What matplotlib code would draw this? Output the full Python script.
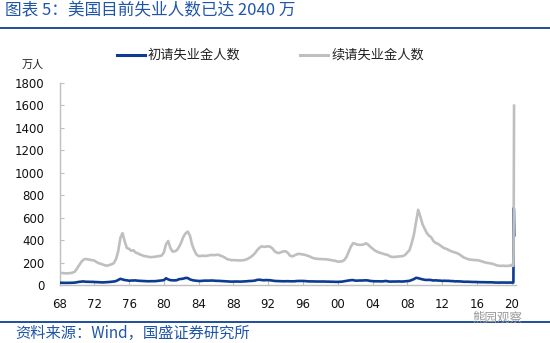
import matplotlib
matplotlib.use("Agg")
import matplotlib.pyplot as plt
import matplotlib.dates as mdates
import pandas as pd
import numpy as np

CJK = ["Noto Sans CJK SC", "DejaVu Sans"]
plt.rcParams["font.family"] = ["DejaVu Sans", "Noto Sans CJK SC"]

# Quarterly averages 1968Q1-2019Q4, unit: 10k persons
continuing_q = [
    110, 107, 105, 104,   # 1968
    104, 106, 110, 118,   # 1969
    145, 175, 205, 225,   # 1970
    232, 228, 225, 222,   # 1971
    218, 205, 195, 188,   # 1972
    180, 175, 172, 178,   # 1973
    185, 195, 230, 300,   # 1974
    420, 462, 390, 330,   # 1975
    322, 305, 310, 290,   # 1976
    282, 272, 265, 258,   # 1977
    255, 250, 248, 250,   # 1978
    252, 255, 258, 262,   # 1979
    290, 362, 392, 330,   # 1980
    298, 300, 310, 340,   # 1981
    380, 430, 460, 476,   # 1982
    440, 360, 310, 272,   # 1983
    258, 258, 262, 258,   # 1984
    262, 265, 268, 266,   # 1985
    268, 270, 262, 255,   # 1986
    245, 232, 226, 222,   # 1987
    222, 220, 220, 218,   # 1988
    220, 222, 228, 238,   # 1989
    250, 265, 285, 312,   # 1990
    332, 345, 340, 342,   # 1991
    345, 340, 325, 300,   # 1992
    288, 285, 292, 300,   # 1993
    300, 288, 262, 255,   # 1994
    262, 272, 278, 275,   # 1995
    272, 268, 262, 255,   # 1996
    245, 238, 235, 232,   # 1997
    232, 230, 230, 228,   # 1998
    225, 222, 218, 215,   # 1999
    208, 208, 212, 222,   # 2000
    250, 295, 340, 372,   # 2001
    368, 360, 358, 358,   # 2002
    362, 372, 360, 340,   # 2003
    325, 308, 298, 290,   # 2004
    284, 278, 272, 268,   # 2005
    255, 250, 250, 252,   # 2006
    254, 256, 258, 268,   # 2007
    290, 310, 372, 446,   # 2008
    560, 670, 610, 540,   # 2009
    500, 462, 440, 425,   # 2010
    392, 375, 368, 355,   # 2011
    340, 328, 322, 312,   # 2012
    302, 296, 290, 283,   # 2013
    272, 258, 245, 238,   # 2014
    230, 226, 224, 222,   # 2015
    222, 218, 212, 205,   # 2016
    200, 196, 194, 190,   # 2017
    184, 176, 172, 170,   # 2018
    172, 170, 170, 172,   # 2019
]

initial_q = [
    20, 19.5, 19, 19,     # 1968
    19, 19.5, 20, 21,     # 1969
    25, 28, 30, 32,       # 1970
    29, 29, 28, 28,       # 1971
    27, 26, 25, 25,       # 1972
    23, 24, 25, 27,       # 1973
    29, 31, 35, 45,       # 1974
    55, 50, 44, 42,       # 1975
    38, 40, 40, 41,       # 1976
    38, 37, 36, 34,       # 1977
    33, 33, 34, 34,       # 1978
    34, 36, 38, 41,       # 1979
    43, 60, 50, 43,       # 1980
    42, 41, 43, 52,       # 1981
    54, 57, 63, 62,       # 1982
    50, 44, 40, 38,       # 1983
    36, 36, 38, 39,       # 1984
    39, 39, 40, 39,       # 1985
    37, 37, 36, 35,       # 1986
    34, 33, 31, 30,       # 1987
    31, 31, 31, 30,       # 1988
    31, 32, 33, 35,       # 1989
    36, 37, 40, 46,       # 1990
    47, 44, 42, 44,       # 1991
    43, 42, 39, 36,       # 1992
    35, 34, 33, 33,       # 1993
    34, 34, 33, 33,       # 1994
    33, 35, 36, 36,       # 1995
    36, 35, 33, 32,       # 1996
    32, 32, 31, 31,       # 1997
    31, 31, 31, 30,       # 1998
    30, 29, 29, 28,       # 1999
    28, 29, 30, 33,       # 2000
    37, 40, 43, 44,       # 2001
    39, 39, 40, 40,       # 2002
    41, 42, 40, 36,       # 2003
    34, 33, 33, 33,       # 2004
    32, 33, 36, 33,       # 2005
    30, 31, 31, 31,       # 2006
    32, 31, 31, 33,       # 2007
    35, 37, 44, 52,       # 2008
    64, 61, 55, 50,       # 2009
    46, 45, 46, 44,       # 2010
    40, 42, 40, 39,       # 2011
    37, 38, 37, 37,       # 2012
    35, 35, 32, 33,       # 2013
    32, 31, 29, 29,       # 2014
    29, 28, 27, 27,       # 2015
    26, 26, 25, 25,       # 2016
    24, 24, 24, 24,       # 2017
    22, 22, 21, 22,       # 2018
    22, 22, 21, 22,       # 2019
]

# Weekly figures for 2020
weeks_2020 = ["2020-01-04", "2020-01-11", "2020-01-18", "2020-01-25",
              "2020-02-01", "2020-02-08", "2020-02-15", "2020-02-22",
              "2020-02-29", "2020-03-07", "2020-03-14", "2020-03-21",
              "2020-03-28", "2020-04-04", "2020-04-11", "2020-04-18"]
initial_2020 = [21.4, 20.7, 22.2, 21.6, 20.3, 20.5, 21.5, 21.9,
                21.7, 21.1, 28.2, 330.7, 686.7, 661.5, 524.5, 442.7]
continuing_2020 = [180, 173, 174, 175, 171, 172, 173, 172,
                   170, 170, 178, 306, 745, 1198, 1598]

tick_years = list(range(1968, 2021, 4))
tick_labels = [f"{y % 100:02d}" for y in tick_years]
y_ticks = list(range(0, 1801, 200))

q_dates = pd.date_range("1968-01-01", periods=len(initial_q), freq="QS")
w_dates = pd.to_datetime(weeks_2020)

init_x = list(q_dates) + list(w_dates)
init_y = initial_q + initial_2020
cont_x = list(q_dates) + list(w_dates[:len(continuing_2020)])
cont_y = continuing_q + continuing_2020

W, H = 550, 343
fig = plt.figure(figsize=(W / 100, H / 100), dpi=100)
ax = fig.add_axes([59.5 / W, (H - 285) / H, 456 / W, 202 / H])

navy = "#0E3B92"
grey = "#BFBFBF"
ax.plot(init_x, init_y, color=navy, lw=1.9, solid_joinstyle="round", zorder=3)
ax.plot(cont_x, cont_y, color=grey, lw=1.9, solid_joinstyle="round", zorder=4)

ax.set_ylim(0, 1800)
ax.set_yticks(y_ticks)
ax.set_xlim(pd.Timestamp("1968-01-01"), pd.Timestamp("2020-06-10"))
ax.set_xticks([pd.Timestamp(f"{y}-01-01") for y in tick_years])
ax.set_xticklabels(tick_labels)

for s in ["top", "right"]:
    ax.spines[s].set_visible(False)
for s in ["left", "bottom"]:
    ax.spines[s].set_color("#BFBFBF")
    ax.spines[s].set_linewidth(1.0)
ax.tick_params(axis="y", direction="in", length=3, color="#BFBFBF",
               labelsize=8.5, pad=11, labelcolor="#111111")
ax.tick_params(axis="x", direction="in", length=3, color="#BFBFBF",
               labelsize=8.5, pad=9, labelcolor="#111111")

# title and rules
blue = "#1F56A8"
fig.text(5 / W, 1 - 11 / H, "图表 5：美国目前失业人数已达 2040 万", family=CJK,
         fontsize=12, color=blue, va="center", ha="left", style="italic")
fig.add_artist(plt.Line2D([0, 1], [1 - 28 / H, 1 - 28 / H], color="#1F4E9A", lw=1.4))
fig.add_artist(plt.Line2D([0, 1], [1 - 322 / H, 1 - 322 / H], color="#1F4E9A", lw=1.4))
fig.text(15 / W, 1 - 333 / H, "资料来源：Wind，国盛证券研究所", family=CJK,
         fontsize=11, color=blue, va="center", ha="left", style="italic")
fig.text(472 / W, 1 - 318 / H, "熊园观察", family=CJK,
         fontsize=9, color="#9A9A9A", va="center", ha="left")

# unit label
fig.text(22 / W, 1 - 65 / H, "万人", family=CJK, fontsize=8,
         color="#222222", va="center", ha="left")

# legend
ly = 1 - 55 / H
fig.add_artist(plt.Line2D([117 / W, 145 / W], [ly, ly], color=navy, lw=2.2))
fig.text(148 / W, ly, "初请失业金人数", family=CJK, fontsize=9.5,
         color="#222222", va="center", ha="left")
fig.add_artist(plt.Line2D([300 / W, 328 / W], [ly, ly], color=grey, lw=2.2))
fig.text(332 / W, ly, "续请失业金人数", family=CJK, fontsize=9.5,
         color="#222222", va="center", ha="left")

fig.savefig("out.png", dpi=100)
